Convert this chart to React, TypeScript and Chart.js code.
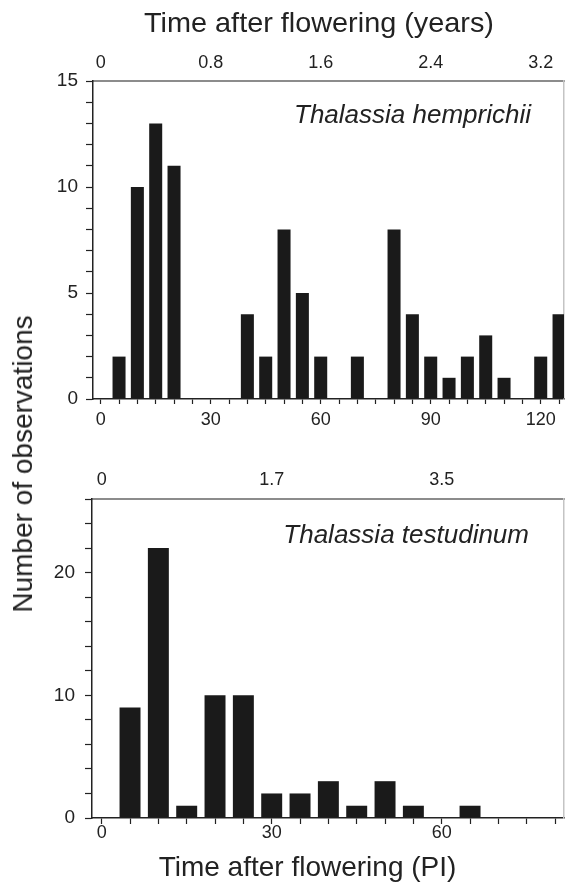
import React, { useEffect, useRef } from 'react';
import { Chart, registerables } from 'chart.js';

Chart.register(...registerables);

const FONT = "'Liberation Sans', Arial, Helvetica, sans-serif";
const INK = '#222222';
const BAR = '#1a1a1a';

// ---- Thalassia hemprichii (upper panel) ----
const hemPI = [5, 10, 15, 20, 40, 45, 50, 55, 60, 70, 80, 85, 90, 95, 100, 105, 110, 120, 125];
const hemCounts = [2, 10, 13, 11, 4, 2, 8, 5, 2, 2, 8, 4, 2, 1, 2, 3, 1, 2, 4];
const hemPITickLabels = [0, 30, 60, 90, 120];
const hemYearTickLabels = ['0', '0.8', '1.6', '2.4', '3.2'];
const hemCountTickLabels = [0, 5, 10, 15];

// ---- Thalassia testudinum (lower panel) ----
const tesPI = [5, 10, 15, 20, 25, 30, 35, 40, 45, 50, 55, 65];
const tesCounts = [9, 22, 1, 10, 10, 2, 2, 3, 1, 3, 1, 1];
const tesPITickLabels = [0, 30, 60];
const tesYearTickLabels = ['0', '1.7', '3.5'];
const tesCountTickLabels = [0, 10, 20];

const range = (a: number, b: number, s: number) => {
  const out: number[] = [];
  for (let v = a; v <= b + 1e-9; v += s) out.push(Math.round(v * 1000) / 1000);
  return out;
};

type PanelSpec = {
  xs: number[];
  ys: number[];
  xMin: number;
  xMax: number;
  xMinorStep: number;
  xMinorMax: number;
  xLabels: number[];
  yearLabels: string[];
  yMax: number;
  yStep: number;
  yLabels: number[];
  barPct: number;
  width: number;
  height: number;
  areaLeft: number;
  areaTop: number;
  areaBottom: number;
  xTickLen: number;
  xPad: number;
  topPad: number;
  yPad: number;
};

function makeConfig(p: PanelSpec): any {
  const tickFontX = { family: FONT, size: 18 };
  const tickFontY = { family: FONT, size: 19 };
  return {
    type: 'bar',
    data: {
      datasets: [
        {
          data: p.xs.map((x, i) => ({ x, y: p.ys[i] })),
          backgroundColor: BAR,
          borderWidth: 0,
          categoryPercentage: 1,
          barPercentage: p.barPct,
          xAxisID: 'x',
          yAxisID: 'y',
        },
      ],
    },
    options: {
      animation: false,
      responsive: false,
      devicePixelRatio: 1,
      events: [],
      layout: { padding: 0 },
      plugins: {
        legend: { display: false },
        tooltip: { enabled: false },
        title: { display: false },
      },
      scales: {
        x: {
          type: 'linear',
          position: 'bottom',
          min: p.xMin,
          max: p.xMax,
          offset: false,
          afterBuildTicks: (s: any) => {
            s.ticks = range(0, p.xMinorMax, p.xMinorStep).map((v) => ({ value: v }));
          },
          ticks: {
            autoSkip: false,
            maxRotation: 0,
            padding: p.xPad,
            color: INK,
            font: tickFontX,
            callback: (v: number) => (p.xLabels.includes(v) ? String(v) : ''),
          },
          grid: {
            offset: false,
            drawOnChartArea: false,
            drawTicks: true,
            tickLength: p.xTickLen,
            tickColor: INK,
            tickWidth: 1.2,
          },
          border: { display: true, color: INK, width: 1.5 },
          afterFit: (s: any) => {
            s.height = p.height - p.areaBottom;
          },
        },
        xTop: {
          type: 'linear',
          position: 'top',
          min: p.xMin,
          max: p.xMax,
          offset: false,
          afterBuildTicks: (s: any) => {
            s.ticks = p.xLabels.map((v) => ({ value: v }));
          },
          ticks: {
            autoSkip: false,
            maxRotation: 0,
            padding: p.topPad,
            color: INK,
            font: tickFontX,
            callback: (_v: number, i: number) => p.yearLabels[i] ?? '',
          },
          grid: { offset: false, drawOnChartArea: false, drawTicks: false },
          border: { display: true, color: '#8c8c8c', width: 2 },
          afterFit: (s: any) => {
            s.height = p.areaTop;
          },
        },
        y: {
          type: 'linear',
          position: 'left',
          min: 0,
          max: p.yMax,
          afterBuildTicks: (s: any) => {
            s.ticks = range(0, p.yMax, p.yStep).map((v) => ({ value: v }));
          },
          ticks: {
            autoSkip: false,
            padding: p.yPad,
            color: INK,
            font: tickFontY,
            callback: (v: number) => (p.yLabels.includes(v) ? String(v) : ''),
          },
          grid: {
            drawOnChartArea: false,
            drawTicks: true,
            tickLength: 7,
            tickColor: INK,
            tickWidth: 1.2,
          },
          border: { display: true, color: INK, width: 1.5 },
          afterFit: (s: any) => {
            s.width = p.areaLeft;
          },
        },
        yRight: {
          type: 'linear',
          position: 'right',
          min: 0,
          max: p.yMax,
          ticks: { display: false },
          grid: { drawOnChartArea: false, drawTicks: false },
          border: { display: true, color: '#c4c4c4', width: 1.5 },
          afterFit: (s: any) => {
            s.width = 1;
          },
        },
      },
    },
  };
}

function HistPanel({ spec, top }: { spec: PanelSpec; top: number }) {
  const ref = useRef<HTMLCanvasElement | null>(null);
  useEffect(() => {
    if (!ref.current) return;
    const chart = new Chart(ref.current, makeConfig(spec));
    return () => chart.destroy();
  }, [spec]);
  return (
    <canvas
      ref={ref}
      width={spec.width}
      height={spec.height}
      style={{ position: 'absolute', left: 0, top, width: spec.width, height: spec.height }}
    />
  );
}

const hemSpec: PanelSpec = {
  xs: hemPI,
  ys: hemCounts,
  xMin: -2.1,
  xMax: 126.35,
  xMinorStep: 5,
  xMinorMax: 125,
  xLabels: hemPITickLabels,
  yearLabels: hemYearTickLabels,
  yMax: 15,
  yStep: 1,
  yLabels: hemCountTickLabels,
  barPct: 0.71,
  width: 565,
  height: 440,
  areaLeft: 93,
  areaTop: 81,
  areaBottom: 399,
  xTickLen: 5,
  xPad: 5,
  topPad: 7,
  yPad: 8,
};

const tesSpec: PanelSpec = {
  xs: tesPI,
  ys: tesCounts,
  xMin: -1.71,
  xMax: 81.58,
  xMinorStep: 5,
  xMinorMax: 80,
  xLabels: tesPITickLabels,
  yearLabels: tesYearTickLabels,
  yMax: 26,
  yStep: 2,
  yLabels: tesCountTickLabels,
  barPct: 0.74,
  width: 565,
  height: 443,
  areaLeft: 92,
  areaTop: 59,
  areaBottom: 378,
  xTickLen: 6,
  xPad: -2,
  topPad: 8,
  yPad: 10,
};

const textBase: React.CSSProperties = {
  position: 'absolute',
  fontFamily: FONT,
  color: INK,
  whiteSpace: 'nowrap',
  lineHeight: 1,
};

export default function App() {
  return (
    <div
      style={{
        position: 'absolute',
        left: 0,
        top: 0,
        width: 565,
        height: 883,
        background: '#ffffff',
        overflow: 'hidden',
      }}
    >
      <HistPanel spec={hemSpec} top={0} />
      <HistPanel spec={tesSpec} top={440} />

      <div
        style={{
          ...textBase,
          fontSize: 28,
          left: 319,
          top: 9.3,
          transform: 'translateX(-50%) scaleX(1.03)',
        }}
      >
        Time after flowering (years)
      </div>

      <div
        style={{
          ...textBase,
          fontSize: 28,
          left: 307.5,
          top: 853,
          transform: 'translateX(-50%)',
        }}
      >
        Time after flowering (PI)
      </div>

      <div
        style={{
          ...textBase,
          fontSize: 28,
          left: 22.5,
          top: 463.5,
          transform: 'translate(-50%, -50%) rotate(-90deg)',
        }}
      >
        Number of observations
      </div>

      <div
        style={{
          ...textBase,
          fontSize: 26,
          fontStyle: 'italic',
          right: 565 - 531,
          top: 101.3,
        }}
      >
        Thalassia hemprichii
      </div>

      <div
        style={{
          ...textBase,
          fontSize: 26,
          fontStyle: 'italic',
          right: 565 - 529,
          top: 521.3,
        }}
      >
        Thalassia testudinum
      </div>
    </div>
  );
}
